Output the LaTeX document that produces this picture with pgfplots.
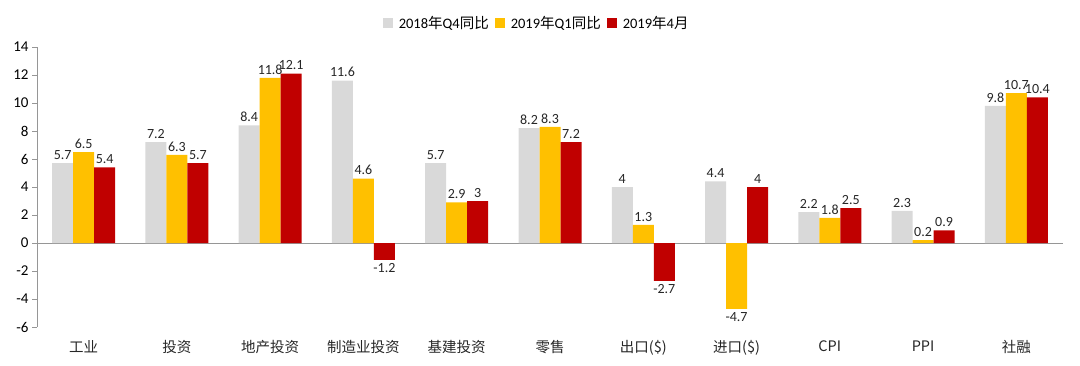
\documentclass[border=0pt]{standalone}
\usepackage{pgfplots}
\pgfplotsset{compat=1.18}
\usepackage{fontspec}
\setmainfont{Carlito}
\newfontfamily\cjk{Noto Sans CJK SC}
\definecolor{cgray}{RGB}{217,217,217}
\definecolor{cyel}{RGB}{255,192,0}
\definecolor{cred}{RGB}{192,0,0}
\definecolor{axgray}{RGB}{150,150,150}
\pgfkeys{/pgf/number format/assume math mode=true}
\begin{document}
\begin{tikzpicture}
\begin{axis}[
  scale only axis,
  width=1026pt, height=280pt,
  ymin=-6, ymax=14, xmin=-0.5, xmax=10.5,
  ybar=0pt, bar width=21pt,
  ytick={-6,-4,...,14},
  yticklabel style={font=\fontsize{15}{17}\selectfont, /pgf/number format/assume math mode=true},
  axis y line*=left,
  axis x line*=bottom,
  x axis line style={draw=none},
  y axis line style={axgray},
  ytick style={axgray},
  tick align=outside,
  major tick length=5pt,
  xtick=data,
  xtick style={draw=none},
  xticklabels={工业,投资,地产投资,制造业投资,基建投资,零售,出口(\$),进口(\$),CPI,PPI,社融},
  xticklabel style={font=\cjk\fontsize{14.5}{16}\selectfont, text=black!85, yshift=-5pt},
  extra y ticks={0},
  extra y tick labels={},
  extra y tick style={grid=major, major grid style={axgray, thin}},
  nodes near coords,
  every node near coord/.append style={font=\fontsize{14}{16}\selectfont, text=black!85, inner xsep=0pt, /pgf/number format/assume math mode=true},
  legend columns=3,
  legend style={at={(0.487,1)}, anchor=south, yshift=13pt, draw=none, font=\fontsize{14.5}{16}\selectfont, column sep=4pt},
  legend image code/.code={\fill[#1, draw=none] (0pt,-5pt) rectangle (10pt,5pt);},
]
\addplot[fill=cgray, draw=none] coordinates {(0,5.7) (1,7.2) (2,8.4) (3,11.6) (4,5.7) (5,8.2) (6,4) (7,4.4) (8,2.2) (9,2.3) (10,9.8)};
\addplot[fill=cyel, draw=none] coordinates {(0,6.5) (1,6.3) (2,11.8) (3,4.6) (4,2.9) (5,8.3) (6,1.3) (7,-4.7) (8,1.8) (9,0.2) (10,10.7)};
\addplot[fill=cred, draw=none] coordinates {(0,5.4) (1,5.7) (2,12.1) (3,-1.2) (4,3) (5,7.2) (6,-2.7) (7,4) (8,2.5) (9,0.9) (10,10.4)};
\legend{2018{\cjk 年}Q4{\cjk 同比}, 2019{\cjk 年}Q1{\cjk 同比}, 2019{\cjk 年}4{\cjk 月}}
\end{axis}
\pgfresetboundingbox
\useasboundingbox (-37pt,-38pt) rectangle (1043pt,327pt);
\end{tikzpicture}
\end{document}
